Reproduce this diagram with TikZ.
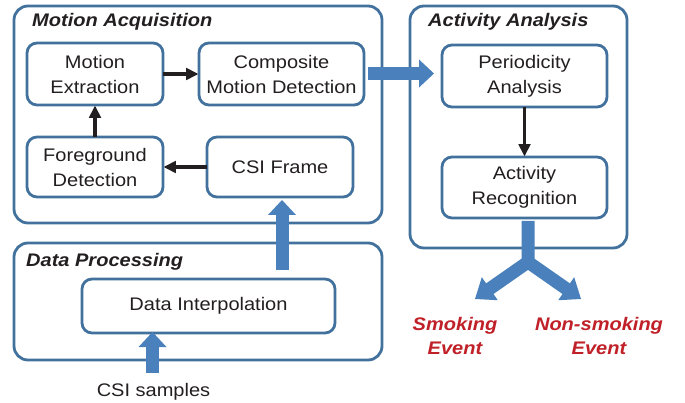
\documentclass[tikz,border=0pt]{standalone}
\usepackage{fontspec}
\setmainfont{Liberation Sans}[FakeStretch=1.1]
\usetikzlibrary{arrows.meta,calc}
\definecolor{boxblue}{RGB}{65,113,156}
\definecolor{arrblue}{RGB}{74,128,188}
\definecolor{evred}{RGB}{192,32,40}
\definecolor{txt}{RGB}{35,31,32}
\begin{document}
\begin{tikzpicture}[x=1pt,y=-1pt,
  container/.style={draw=boxblue, line width=2.8pt, rounded corners=14pt, inner sep=0pt, outer sep=0pt},
  stage/.style={draw=boxblue, line width=2.8pt, rounded corners=10pt, fill=white, align=center,
    inner sep=0pt, outer sep=0pt, font=\fontsize{18.2}{25}\selectfont, text=txt},
  title/.style={anchor=base west, inner sep=0pt, font=\fontsize{18.2}{25}\selectfont\bfseries\itshape, text=txt},
  flow/.style={draw=txt, line width=3.4pt, shorten >=0.8pt, -{Triangle[length=12pt,width=12.5pt,line width=0pt]}},
  block/.style={draw=arrblue, line width=13pt, -{Triangle[length=15pt,width=28pt,line width=0pt]}},
  event/.style={align=center, inner sep=0pt, font=\fontsize{18.2}{24}\selectfont\bfseries\itshape, text=evred},
  plain/.style={inner sep=0pt, font=\fontsize{18.2}{25}\selectfont, text=txt},
]
\useasboundingbox (0,0) rectangle (685,403);

% containers
\node[container, minimum width=368pt, minimum height=217pt] (ma) at (198,114.5) {};
\node[container, minimum width=217pt, minimum height=242pt] (aa) at (518.5,127) {};
\node[container, minimum width=368pt, minimum height=117pt] (dp) at (198,301.5) {};

% titles
\node[title] (tma) at (32,27) {Motion Acquisition};
\node[title] (taa) at (428,27) {Activity Analysis};
\node[title] (tdp) at (26,267) {Data Processing};

% stages
\node[stage, minimum width=136pt, minimum height=62pt] (me) at (95,74) {Motion\\Extraction};
\node[stage, minimum width=165pt, minimum height=62pt] (comp) at (281.5,74) {Composite\\Motion Detection};
\node[stage, minimum width=136pt, minimum height=60pt] (fg) at (95,167) {Foreground\\Detection};
\node[stage, minimum width=146pt, minimum height=60pt] (csif) at (280,167) {CSI Frame};
\node[stage, minimum width=165pt, minimum height=62pt] (per) at (524.5,76) {Periodicity\\Analysis};
\node[stage, minimum width=165pt, minimum height=61pt] (ar) at (524.5,187.5) {Activity\\Recognition};
\node[stage, minimum width=253pt, minimum height=54pt] (di) at (208.5,306) {Data Interpolation};

% outside texts
\node[plain, anchor=base] (csis) at (153.5,396) {CSI samples};
\node[event] (smk) at (455,335.5) {Smoking\\Event};
\node[event] (nsmk) at (599,335.5) {Non-smoking\\Event};

% flow arrows
\draw[flow] (me.east) -- (comp.west);
\draw[flow] (csif.west) -- (fg.east);
\draw[flow] (fg.north) -- (me.south);
\draw[flow] (per.south) -- (ar.north);

% block arrows
\coordinate (hs) at (368,73.5);
\draw[block, shorten >=8pt] (hs) -- (hs -| per.west);
\coordinate (dps) at (282,270);
\draw[block, shorten >=3pt] (dps) -- (dps |- csif.south);
\coordinate (css) at (152.5,373);
\draw[block, shorten >=-1pt] (css) -- (css |- di.south);

% fork arrow
\coordinate (fork) at (528,221);
\fill[arrblue, shift={(fork)}]
  (-6.5,0) -- (6.5,0) -- (6.5,37.7) -- (41.9,62.4) -- (46.2,56.2) -- (53,78) -- (30.2,79.2)
  -- (34.5,73) -- (0,48.9) -- (-34.5,73) -- (-30.2,79.2) -- (-53,78) -- (-46.2,56.2)
  -- (-41.9,62.4) -- (-6.5,37.7) -- cycle;
\end{tikzpicture}
\end{document}
